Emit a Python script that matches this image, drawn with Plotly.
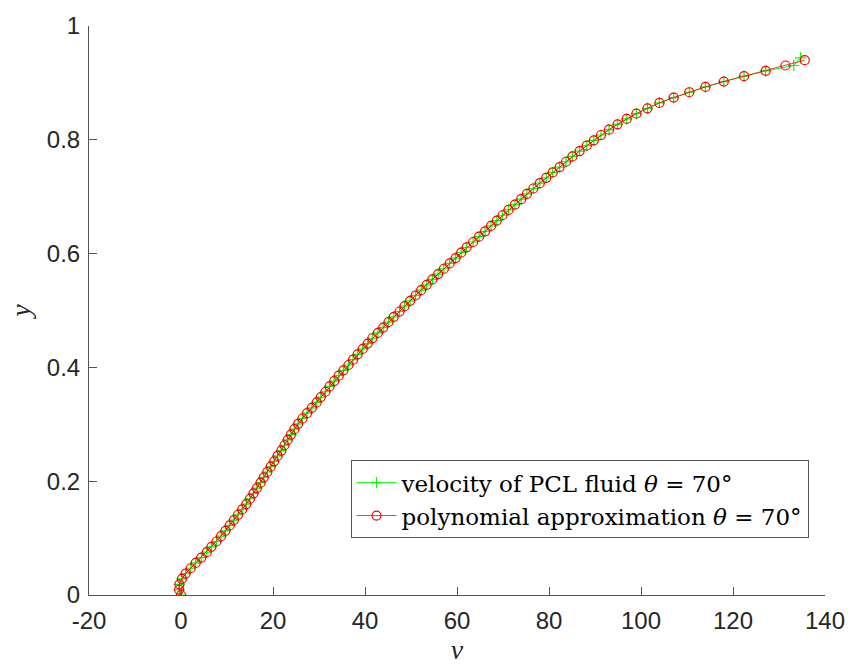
import plotly.graph_objects as go

# y positions
y_vals = [0.0, 0.0094, 0.0188, 0.0282, 0.0376, 0.047, 0.0564, 0.0658, 0.0752, 0.0846,
          0.094, 0.1034, 0.1128, 0.1222, 0.1316, 0.141, 0.1504, 0.1598, 0.1692, 0.1786,
          0.188, 0.1974, 0.2068, 0.2162, 0.2256, 0.235, 0.2444, 0.2538, 0.2632, 0.2726,
          0.282, 0.2914, 0.3008, 0.3102, 0.3196, 0.329, 0.3384, 0.3478, 0.3572, 0.3666,
          0.376, 0.3854, 0.3948, 0.4042, 0.4136, 0.423, 0.4324, 0.4418, 0.4512, 0.4606,
          0.47, 0.4794, 0.4888, 0.4982, 0.5076, 0.517, 0.5264, 0.5358, 0.5452, 0.5546,
          0.564, 0.5734, 0.5828, 0.5922, 0.6016, 0.611, 0.6204, 0.6298, 0.6392, 0.6486,
          0.658, 0.6674, 0.6768, 0.6862, 0.6956, 0.705, 0.7144, 0.7238, 0.7332, 0.7426,
          0.752, 0.7614, 0.7708, 0.7802, 0.7896, 0.799, 0.8084, 0.8178, 0.8272, 0.8366,
          0.846, 0.8554, 0.8648, 0.8742, 0.8836, 0.893, 0.9024, 0.9118, 0.9212, 0.9306,
          0.94]

# polynomial approximation (red)
v_poly = [0.0, -0.4, -0.35, 0.2, 1.0, 2.1, 3.2, 4.4, 5.6, 6.6,
          7.7, 8.7, 9.65, 10.6, 11.5, 12.4, 13.3, 14.2, 15.0, 15.75,
          16.5, 17.3, 18.0, 18.75, 19.5, 20.25, 21.0, 21.8, 22.5, 23.2,
          23.9, 24.65, 25.45, 26.4, 27.4, 28.45, 29.5, 30.4, 31.4, 32.3,
          33.3, 34.3, 35.3, 36.4, 37.4, 38.4, 39.5, 40.6, 41.6, 42.8,
          43.95, 45.1, 46.25, 47.5, 48.6, 49.8, 51.0, 52.2, 53.4, 54.65,
          55.9, 57.15, 58.4, 59.7, 60.9, 62.1, 63.5, 64.8, 66.1, 67.4,
          68.65, 69.9, 71.2, 72.6, 73.95, 75.2, 76.6, 78.0, 79.4, 80.8,
          82.3, 83.7, 85.1, 86.65, 88.2, 89.75, 91.3, 93.05, 94.9, 96.9,
          99.0, 101.4, 104.0, 107.1, 110.5, 114.0, 118.0, 122.4, 127.1, 131.4,
          135.6]

# velocity of PCL fluid (green)
v_fluid = [0.0, -0.4, -0.35, 0.2, 1.0, 2.1, 3.2, 4.4, 5.6, 6.6,
           7.7, 8.7, 9.65, 10.6, 11.5, 12.4, 13.3, 14.2, 15.0, 15.75,
           16.5, 17.3, 18.0, 18.75, 19.5, 20.25, 21.0, 21.8, 22.5, 23.2,
           23.9, 24.65, 25.45, 26.4, 27.4, 28.45, 29.5, 30.4, 31.4, 32.3,
           33.3, 34.3, 35.3, 36.4, 37.4, 38.4, 39.5, 40.6, 41.6, 42.8,
           43.95, 45.1, 46.25, 47.5, 48.6, 49.8, 51.0, 52.2, 53.4, 54.65,
           55.9, 57.15, 58.4, 59.7, 60.9, 62.1, 63.5, 64.8, 66.1, 67.4,
           68.65, 69.9, 71.2, 72.6, 73.95, 75.2, 76.6, 78.0, 79.4, 80.8,
           82.3, 83.7, 85.1, 86.65, 88.2, 89.75, 91.3, 93.05, 94.9, 96.9,
           99.0, 101.4, 104.0, 107.1, 110.5, 114.0, 118.0, 122.4, 127.1, 133.2,
           134.7]
y_fluid = y_vals[:-1] + [0.944]

x_ticks = [-20, 0, 20, 40, 60, 80, 100, 120, 140]
x_tick_text = ["-20", "0", "20", "40", "60", "80", "100", "120", "140"]
y_ticks = [0, 0.2, 0.4, 0.6, 0.8, 1]
y_tick_text = ["0", "0.2", "0.4", "0.6", "0.8", "1"]

fig = go.Figure()
fig.add_trace(go.Scatter(
    x=v_fluid, y=y_fluid, mode="lines+markers",
    name="velocity of PCL fluid <i>θ</i> = 70°",
    line=dict(color="#00ff00", width=1),
    marker=dict(symbol="cross-thin-open", size=8, line=dict(color="#00ff00", width=1.2)),
))
fig.add_trace(go.Scatter(
    x=v_poly, y=y_vals, mode="lines+markers",
    name="polynomial approximation <i>θ</i> = 70°",
    line=dict(color="#ff0000", width=0.8),
    marker=dict(symbol="circle-open", size=9, color="#ff0000", line=dict(color="#ff0000", width=1.2)),
))

axis_common = dict(
    showline=True, linecolor="#555555", linewidth=1,
    ticks="inside", ticklen=8, tickcolor="#555555", tickwidth=1,
    showgrid=False, zeroline=False, mirror=False,
    tickfont=dict(family="Liberation Sans, Arial, sans-serif", size=24, color="#262626"),
)

fig.update_layout(
    width=857, height=671,
    margin=dict(l=89, r=25, t=21, b=76),
    paper_bgcolor="white", plot_bgcolor="white",
    xaxis=dict(range=[-20, 140], tickvals=x_ticks, ticktext=x_tick_text,
               ticklabelstandoff=4,
               title=dict(text="<i>v</i>", standoff=4,
                          font=dict(family="Liberation Serif, serif", size=28, color="#262626")),
               **axis_common),
    yaxis=dict(range=[0, 1], tickvals=y_ticks, ticktext=y_tick_text,
               ticklabelstandoff=3,
               title=dict(text="<i>y</i>", standoff=8,
                          font=dict(family="Liberation Serif, serif", size=28, color="#262626")),
               **axis_common),
    legend=dict(x=0.3553, y=0.2369, xanchor="left", yanchor="top",
                bgcolor="white", bordercolor="#555555", borderwidth=1,
                font=dict(family="DejaVu Serif, serif", size=23, color="#000000"),
                tracegroupgap=0, itemwidth=40),
    showlegend=True,
)

fig.write_html("out.html")
